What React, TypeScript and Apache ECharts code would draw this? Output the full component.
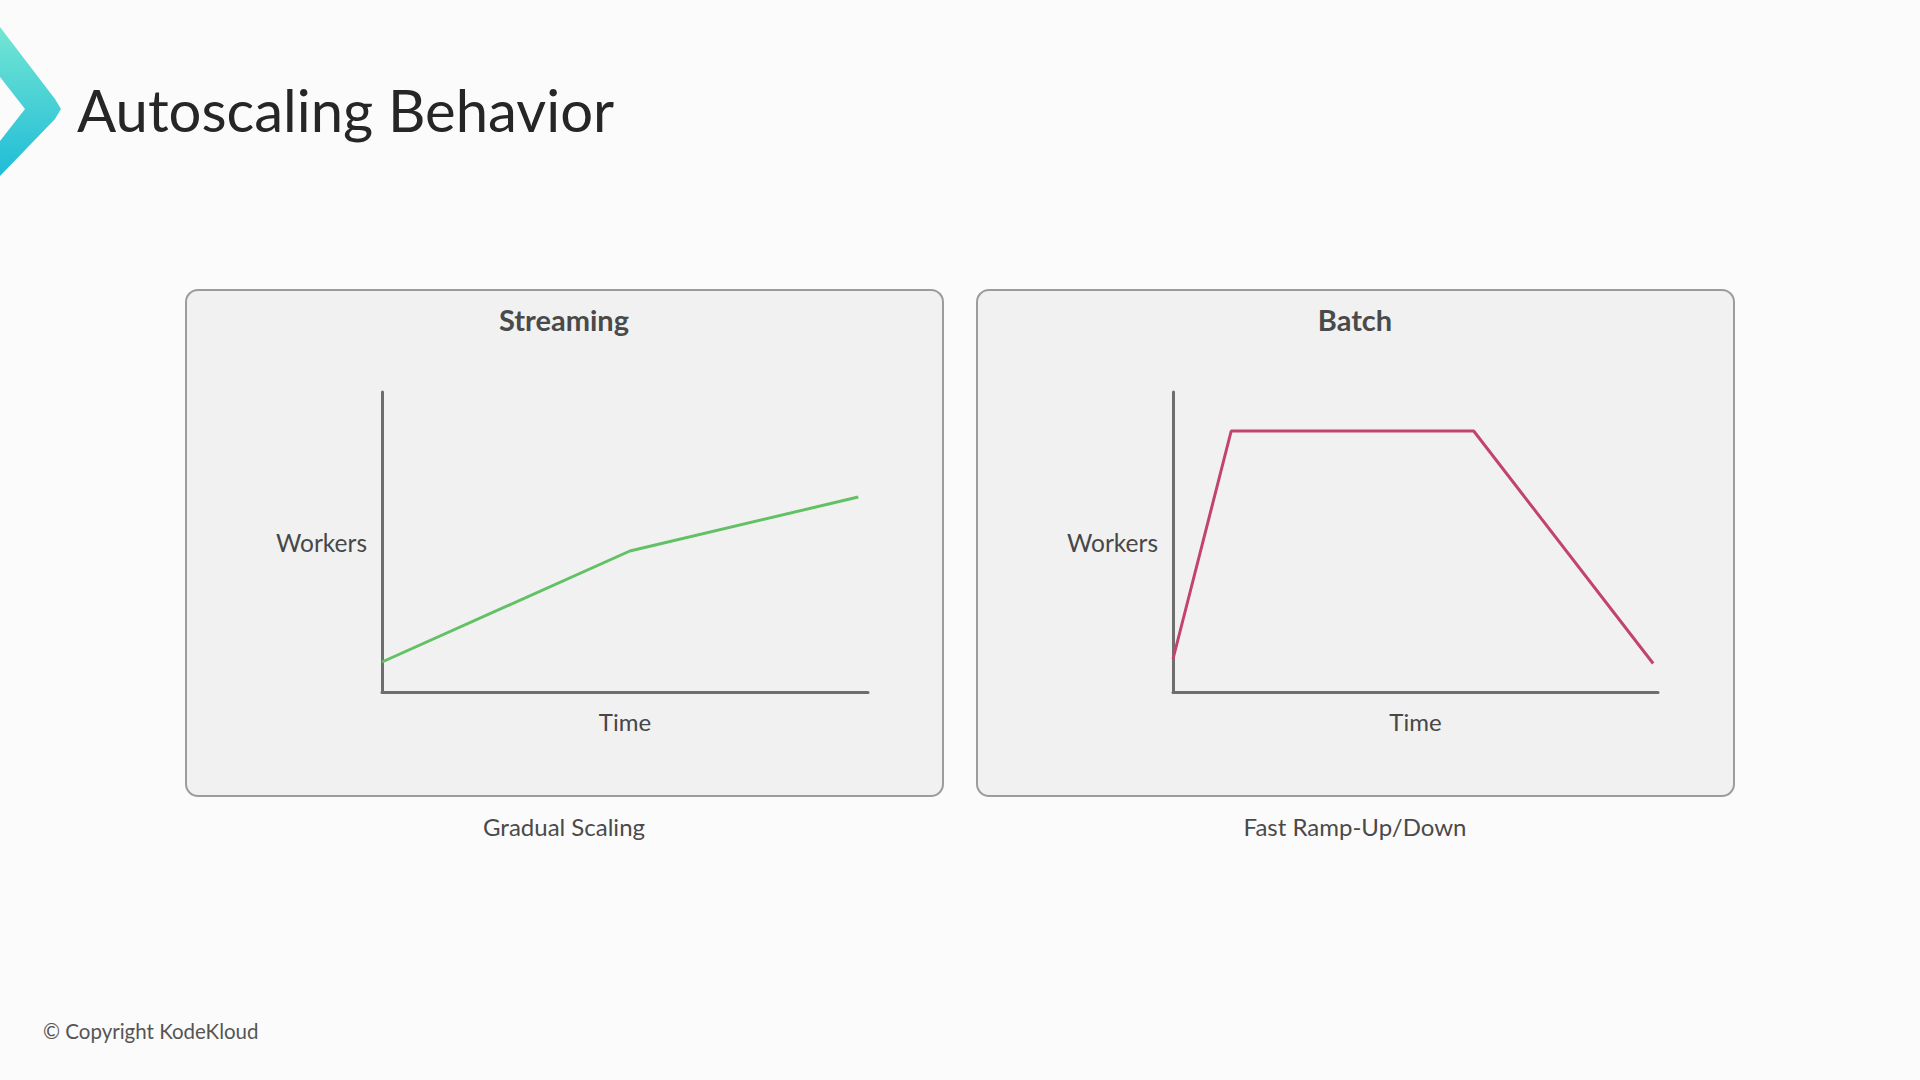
import React, { useEffect, useRef } from "react";
import * as echarts from "echarts";

// ---- Data ----
const pageTitle = "Autoscaling Behavior";
const panelTitles = ["Streaming", "Batch"];
const panelCaptions = ["Gradual Scaling", "Fast Ramp-Up/Down"];
const xAxisName = "Time";
const yAxisName = "Workers";
const copyrightText = "© Copyright KodeKloud";

const streamingTime = [0, 5.1, 9.8];
const streamingWorkers = [1.0, 4.7, 6.5];

const batchTime = [0, 1.2, 6.2, 9.9];
const batchWorkers = [1.1, 8.7, 8.7, 0.95];

const FONT = "Lato, 'Open Sans', 'Noto Sans', sans-serif";

export default function App() {
  const ref = useRef<HTMLDivElement>(null);

  useEffect(() => {
    if (!ref.current) return;
    const chart = echarts.init(ref.current, undefined, { renderer: "svg" });

    const streamingData = streamingTime.map((t, i) => [t, streamingWorkers[i]]);
    const batchData = batchTime.map((t, i) => [t, batchWorkers[i]]);

    const axisLine = { show: true, lineStyle: { color: "#6e6e6e", width: 3 } };

    const makeX = (gridIndex: number) => ({
      type: "value",
      gridIndex,
      min: 0,
      max: 10,
      z: 5,
      axisLine,
      axisTick: { show: false },
      axisLabel: { show: false },
      splitLine: { show: false },
      name: xAxisName,
      nameLocation: "middle",
      nameGap: 17,
      nameTextStyle: { fontFamily: FONT, fontSize: 24, color: "#474747" },
    });
    const makeY = (gridIndex: number) => ({
      type: "value",
      gridIndex,
      min: 0,
      max: 10,
      z: 5,
      axisLine,
      axisTick: { show: false },
      axisLabel: { show: false },
      splitLine: { show: false },
      name: yAxisName,
      nameLocation: "middle",
      nameRotate: 0,
      nameGap: 15,
      nameTextStyle: { fontFamily: FONT, fontSize: 24.5, color: "#474747", align: "right", verticalAlign: "middle" },
    });

    const panelRect = (x: number) => ({
      type: "rect",
      z: 0,
      shape: { x, y: 290, width: 757, height: 506, r: 12 },
      style: { fill: "#f1f1f1", stroke: "#9c9c9c", lineWidth: 2 },
    });

    const centerText = (text: string, x: number, y: number, size: number, color: string, weight = "normal") => ({
      type: "text",
      z: 6,
      x,
      y,
      style: {
        text,
        fontFamily: FONT,
        fontSize: size,
        fontWeight: weight,
        fill: color,
        textAlign: "center",
        textVerticalAlign: "middle",
      },
    });

    chart.setOption({
      animation: false,
      backgroundColor: "#fcfbfb",
      title: {
        text: pageTitle,
        left: 72,
        top: 75,
        textStyle: { fontFamily: FONT, fontSize: 58, fontWeight: "normal", color: "#262626" },
      },
      grid: [
        { left: 382, top: 392, width: 486, height: 300 },
        { left: 1173, top: 392, width: 485, height: 300 },
      ],
      xAxis: [makeX(0), makeX(1)],
      yAxis: [makeY(0), makeY(1)],
      series: [
        {
          type: "line",
          xAxisIndex: 0,
          yAxisIndex: 0,
          data: streamingData,
          symbol: "none",
          z: 10,
          lineStyle: { color: "#62c165", width: 3 },
        },
        {
          type: "line",
          xAxisIndex: 1,
          yAxisIndex: 1,
          data: batchData,
          symbol: "none",
          z: 10,
          lineStyle: { color: "#c2446c", width: 3 },
        },
      ],
      graphic: [
        {
          type: "polygon",
          z: 1,
          shape: {
            points: [
              [0, 27],
              [55, 99],
              [61, 109],
              [55, 119],
              [0, 176],
              [0, 141],
              [25, 109],
              [0, 77],
            ],
          },
          style: {
            fill: new echarts.graphic.LinearGradient(0, 0, 0, 1, [
              { offset: 0, color: "#74e6d2" },
              { offset: 1, color: "#1fbcd8" },
            ]),
          },
        },
        panelRect(186),
        panelRect(977),
        centerText(panelTitles[0], 564, 319, 29, "#4a4a4a", "bold"),
        centerText(panelTitles[1], 1355, 319, 29, "#4a4a4a", "bold"),
        centerText(panelCaptions[0], 564, 826, 24, "#4a4a4a"),
        centerText(panelCaptions[1], 1355, 826, 24, "#4a4a4a"),
        {
          type: "text",
          z: 6,
          x: 43,
          y: 1031,
          style: {
            text: copyrightText,
            fontFamily: FONT,
            fontSize: 20.5,
            fill: "#555555",
            textAlign: "left",
            textVerticalAlign: "middle",
          },
        },
      ],
    });

    return () => chart.dispose();
  }, []);

  return (
    <div
      ref={ref}
      style={{ position: "fixed", left: 0, top: 0, width: 1920, height: 1080 }}
    />
  );
}
